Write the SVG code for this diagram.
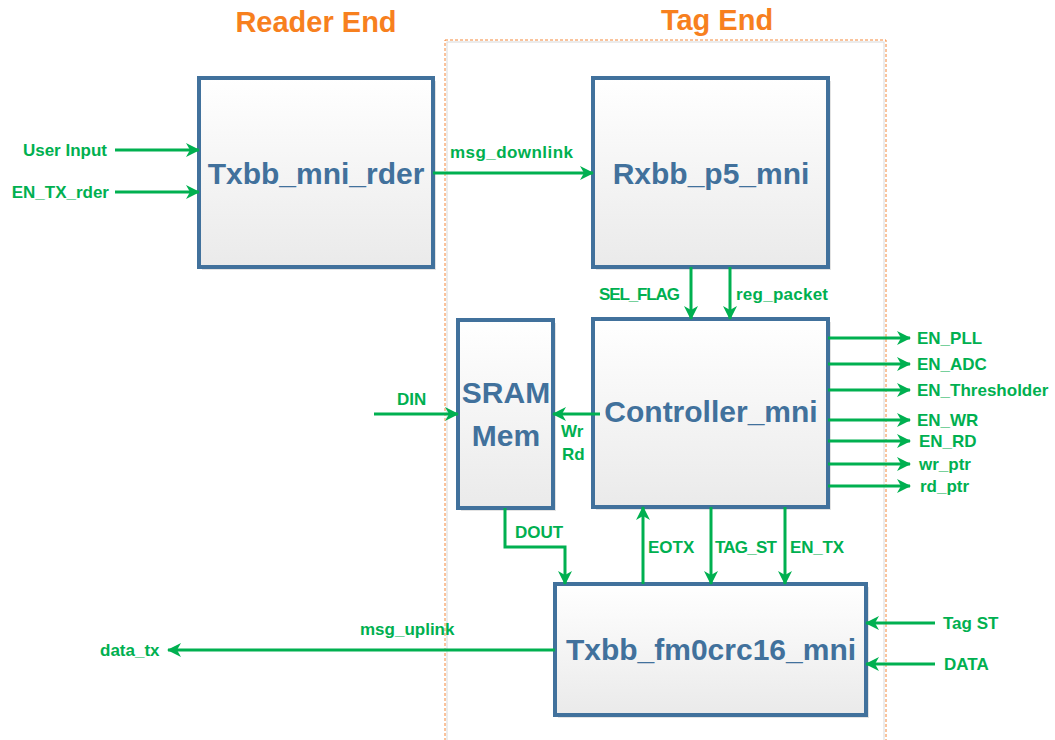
<svg xmlns="http://www.w3.org/2000/svg" width="1055" height="740" viewBox="0 0 1055 740">
<defs>
<linearGradient id="boxfill" x1="0" y1="0" x2="0" y2="1">
<stop offset="0" stop-color="#FFFFFF"/>
<stop offset="1" stop-color="#EAEAEA"/>
</linearGradient>
<marker id="ah" markerUnits="userSpaceOnUse" markerWidth="14" markerHeight="14" viewBox="0 0 14 14" refX="13" refY="7" orient="auto">
<path d="M0,0 L14,7 L0,14 L4,7 Z" fill="#00B050"/>
</marker>
<style>
.box{fill:url(#boxfill);stroke:#41719C;stroke-width:4}
.shadow{fill:#C8C8C8;opacity:0.5}
.bt{font-family:"Liberation Sans",Arial,sans-serif;font-weight:bold;font-size:30px;fill:#41719C;text-anchor:middle}
.title{font-family:"Liberation Sans",Arial,sans-serif;font-weight:bold;font-size:29px;fill:#F7801E;text-anchor:middle}
.lb{font-family:"Liberation Sans",Arial,sans-serif;font-weight:bold;font-size:17px;fill:#00B050}
.w{fill:none;stroke:#00B050;stroke-width:3;marker-end:url(#ah)}
</style>
</defs>
<rect width="1055" height="740" fill="#FFFFFF"/>
<g id="tag-region">
<rect x="447" y="42" width="437" height="710" fill="none" stroke="#D9D9D9" stroke-width="1"/>
<rect x="445" y="40" width="441" height="712" fill="none" stroke="#F4883A" stroke-width="1" stroke-dasharray="3,2"/>
</g>
<g id="titles">
<text class="title" x="316" y="32">Reader End</text>
<text class="title" x="717" y="30">Tag End</text>
</g>
<g id="txbb_rder">
<rect class="shadow" x="202" y="81" width="234" height="189"/>
<rect class="box" x="199" y="78" width="234" height="189"/>
<text class="bt" x="316" y="184">Txbb_mni_rder</text>
</g>
<g id="rxbb">
<rect class="shadow" x="596" y="81" width="235" height="189"/>
<rect class="box" x="593" y="78" width="235" height="189"/>
<text class="bt" x="711" y="184">Rxbb_p5_mni</text>
</g>
<g id="controller">
<rect class="shadow" x="596" y="322" width="235" height="188"/>
<rect class="box" x="593" y="319" width="235" height="188"/>
<text class="bt" x="711" y="422">Controller_mni</text>
</g>
<g id="sram">
<rect class="shadow" x="461" y="323" width="95" height="188"/>
<rect class="box" x="458" y="320" width="95" height="188"/>
<text class="bt" x="506" y="403">SRAM</text>
<text class="bt" x="506" y="446">Mem</text>
</g>
<g id="txbb_fm0">
<rect class="shadow" x="558" y="587" width="311" height="131"/>
<rect class="box" x="555" y="584" width="311" height="131"/>
<text class="bt" x="711" y="660">Txbb_fm0crc16_mni</text>
</g>
<g id="connectors">
<path class="w" d="M115,150 H199"/>
<path class="w" d="M115,192 H199"/>
<path class="w" d="M433,173 H593"/>
<path class="w" d="M691,267 V319"/>
<path class="w" d="M730,267 V319"/>
<path class="w" d="M374,414 H458"/>
<path class="w" d="M600,414 H553"/>
<path class="w" d="M505,508 V547 H565 V584"/>
<path class="w" d="M643,584 V507"/>
<path class="w" d="M711,507 V584"/>
<path class="w" d="M785,507 V584"/>
<path class="w" d="M828,338 H910"/>
<path class="w" d="M828,364 H910"/>
<path class="w" d="M828,390 H910"/>
<path class="w" d="M828,420 H910"/>
<path class="w" d="M828,441 H910"/>
<path class="w" d="M828,464 H910"/>
<path class="w" d="M828,486 H910"/>
<path class="w" d="M935,623 H866"/>
<path class="w" d="M935,664 H866"/>
<path class="w" d="M555,650 H168"/>
</g>
<g id="labels">
<text class="lb" x="107" y="156" text-anchor="end">User Input</text>
<text class="lb" x="109" y="198" text-anchor="end">EN_TX_rder</text>
<text class="lb" x="450" y="158" textLength="123">msg_downlink</text>
<text class="lb" x="599" y="300" textLength="81">SEL_FLAG</text>
<text class="lb" x="736" y="300" textLength="92">reg_packet</text>
<text class="lb" x="397" y="405">DIN</text>
<text class="lb" x="561" y="437">Wr</text>
<text class="lb" x="562" y="460">Rd</text>
<text class="lb" x="515" y="538">DOUT</text>
<text class="lb" x="648" y="553">EOTX</text>
<text class="lb" x="715" y="553" textLength="62">TAG_ST</text>
<text class="lb" x="790" y="553" textLength="54">EN_TX</text>
<text class="lb" x="917" y="344">EN_PLL</text>
<text class="lb" x="917" y="370">EN_ADC</text>
<text class="lb" x="917" y="396">EN_Thresholder</text>
<text class="lb" x="917" y="426">EN_WR</text>
<text class="lb" x="919" y="447">EN_RD</text>
<text class="lb" x="919" y="470">wr_ptr</text>
<text class="lb" x="920" y="492">rd_ptr</text>
<text class="lb" x="943" y="629">Tag ST</text>
<text class="lb" x="944" y="670">DATA</text>
<text class="lb" x="360" y="635">msg_uplink</text>
<text class="lb" x="100" y="656">data_tx</text>
</g>
</svg>
